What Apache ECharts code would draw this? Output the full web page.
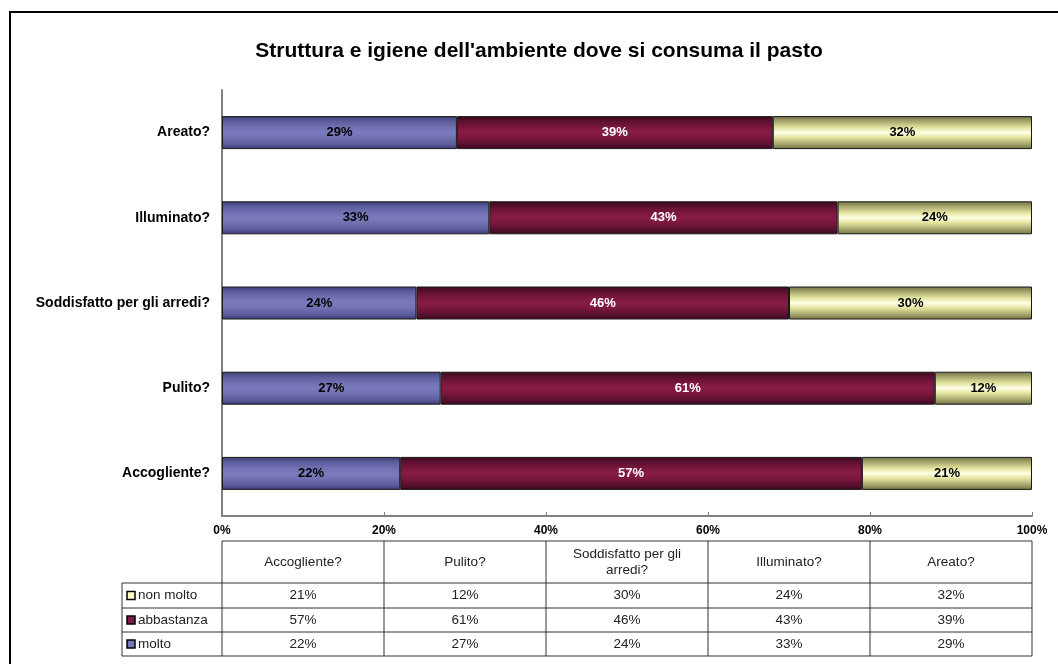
<!DOCTYPE html>
<html>
<head>
<meta charset="utf-8">
<script src="https://cdn.jsdelivr.net/npm/echarts@6/dist/echarts.min.js"></script>
<style>
  html, body { margin: 0; padding: 0; background: #fff; }
  #chart { width: 1058px; height: 664px; }
</style>
</head>
<body>
<div id="chart"></div>
<script>
// dati (dal basso verso l'alto)
var categories = ['Accogliente?', 'Pulito?', 'Soddisfatto per gli arredi?', 'Illuminato?', 'Areato?'];
var tableHeaders = ['Accogliente?', 'Pulito?', 'Soddisfatto per gli\narredi?', 'Illuminato?', 'Areato?'];
var molto = [22, 27, 24, 33, 29];
var abbastanza = [57, 61, 46, 43, 39];
var nonMolto = [21, 12, 30, 24, 32];
var xTicks = [0, 20, 40, 60, 80, 100];

var narrow = "'Liberation Sans Narrow', 'Arial Narrow', 'Liberation Sans', Arial, sans-serif";
var arial = "'Liberation Sans', Arial, sans-serif";

function stripe(edge, mid1, mid2, center) {
  return new echarts.graphic.LinearGradient(0, 0, 0, 1, [
    { offset: 0, color: edge },
    { offset: 0.15, color: mid1 },
    { offset: 0.35, color: mid2 },
    { offset: 0.5, color: center },
    { offset: 0.65, color: mid2 },
    { offset: 0.85, color: mid1 },
    { offset: 1, color: edge }
  ]);
}

var series = [
  { name: 'molto', data: molto, solid: '#7777bb',
    fill: stripe('#3a3a70', '#5c5c9c', '#7272b2', '#7a7abe'), text: '#000' },
  { name: 'abbastanza', data: abbastanza, solid: '#801a48',
    fill: stripe('#380818', '#5a1030', '#7c173e', '#861c48'), text: '#fff' },
  { name: 'non molto', data: nonMolto, solid: '#ffffcc',
    fill: stripe('#6e6e44', '#a4a46c', '#e4e4a0', '#ffffe6'), text: '#000' }
];

var chartDom = document.getElementById('chart');
var myChart = echarts.init(chartDom);

var option = {
  animation: false,
  title: {
    text: "Struttura e igiene dell'ambiente dove si consuma il pasto",
    left: 534, top: 36, textAlign: 'center',
    textStyle: { fontFamily: arial, fontSize: 21, fontWeight: 'bold', color: '#000' }
  },
  grid: { left: 222, right: 26, top: 90, bottom: 148 },
  xAxis: {
    type: 'value', min: 0, max: 100, interval: 20,
    axisLine: { show: true, lineStyle: { color: '#808080', width: 2 } },
    axisTick: { show: true, inside: true, length: 4, lineStyle: { color: '#808080' } },
    splitLine: { show: false },
    axisLabel: {
      margin: 9, fontFamily: narrow, fontWeight: 'bold', fontSize: 12, color: '#000',
      formatter: '{value}%'
    }
  },
  yAxis: {
    type: 'category', data: categories,
    axisLine: { show: true, lineStyle: { color: '#808080', width: 2 } },
    axisTick: { show: false },
    axisLabel: { margin: 12, fontFamily: arial, fontWeight: 'bold', fontSize: 14, color: '#000' }
  },
  series: series.map(function (s) {
    return {
      name: s.name, type: 'bar', stack: 'tot', data: s.data,
      barWidth: 33,
      itemStyle: { color: s.fill, borderColor: '#1a1a1a', borderWidth: 1 },
      label: {
        show: true, position: 'inside', formatter: '{c}%',
        fontFamily: narrow, fontWeight: 'bold', fontSize: 13, color: s.text
      }
    };
  })
};

option && myChart.setOption(option);

// tabella dati sotto il grafico
function drawTable() {
  var els = [];
  var xs = xTicks.map(function (v) { return myChart.convertToPixel({ xAxisIndex: 0 }, v); });
  var legendLeft = 122;
  var rowsY = [541, 583, 608, 632, 656];
  var lineStyle = { stroke: '#333', lineWidth: 1 };
  var cellFont = '13.5px ' + arial;
  function line(x1, y1, x2, y2) {
    els.push({ type: 'line', shape: { x1: x1, y1: y1, x2: x2, y2: y2 }, style: lineStyle, silent: true });
  }
  // bordo esterno
  els.push({ type: 'rect', shape: { x: 10, y: 12, width: 1070, height: 680 },
    style: { fill: 'none', stroke: '#000', lineWidth: 2 }, silent: true });
  // linee orizzontali
  line(xs[0], rowsY[0], xs[5], rowsY[0]);
  for (var r = 1; r < rowsY.length; r++) line(legendLeft, rowsY[r], xs[5], rowsY[r]);
  // linee verticali
  line(legendLeft, rowsY[1], legendLeft, rowsY[4]);
  for (var c = 0; c < xs.length; c++) line(xs[c], rowsY[0], xs[c], rowsY[4]);
  // intestazioni
  for (var i = 0; i < tableHeaders.length; i++) {
    els.push({ type: 'text', x: (xs[i] + xs[i + 1]) / 2, y: (rowsY[0] + rowsY[1]) / 2,
      style: { text: tableHeaders[i], align: 'center', verticalAlign: 'middle', lineHeight: 16,
        font: cellFont, fill: '#222' }, silent: true });
  }
  // righe: non molto, abbastanza, molto
  var rows = [series[2], series[1], series[0]];
  rows.forEach(function (s, k) {
    var yc = (rowsY[k + 1] + rowsY[k + 2]) / 2;
    els.push({ type: 'rect', shape: { x: legendLeft + 5, y: yc - 4, width: 8, height: 8 },
      style: { fill: s.solid, stroke: '#000', lineWidth: 1.5 }, silent: true });
    els.push({ type: 'text', x: legendLeft + 16, y: yc,
      style: { text: s.name, align: 'left', verticalAlign: 'middle', font: cellFont, fill: '#222' },
      silent: true });
    for (var j = 0; j < s.data.length; j++) {
      els.push({ type: 'text', x: (xs[j] + xs[j + 1]) / 2, y: yc,
        style: { text: s.data[j] + '%', align: 'center', verticalAlign: 'middle',
          font: cellFont, fill: '#222' }, silent: true });
    }
  });
  myChart.setOption({ graphic: { elements: els } });
}
drawTable();
</script>
</body>
</html>
